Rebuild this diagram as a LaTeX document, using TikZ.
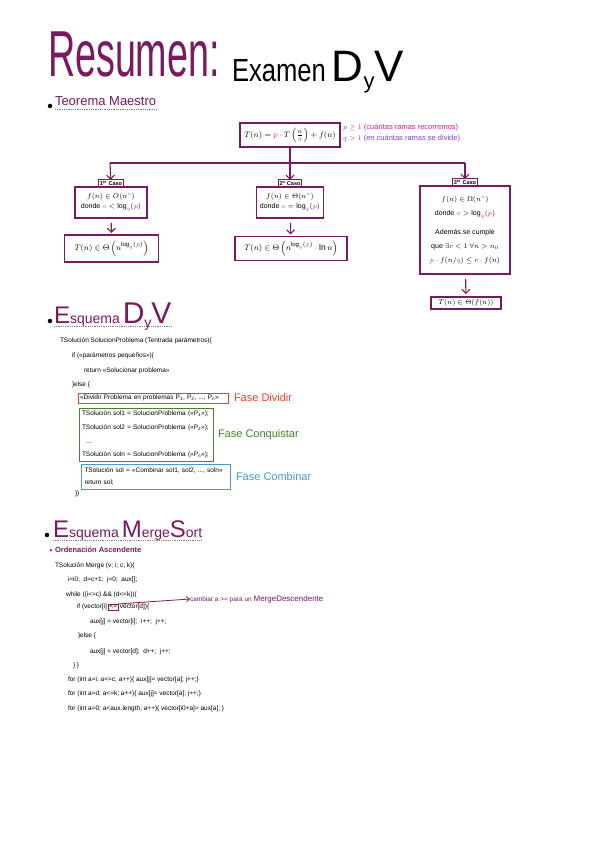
\documentclass[tikz,border=0pt]{standalone}
\usepackage{fontspec}
\setmainfont{Liberation Sans}
\usepackage{amsmath,amssymb}
\usetikzlibrary{arrows.meta,positioning}
\definecolor{morado} {RGB}{122, 24, 96}
\definecolor{rosa}   {RGB}{228, 24,140}
\definecolor{violeta}{RGB}{132, 62,230}
\definecolor{verde}  {RGB}{ 92,170, 60}
\definecolor{verdef} {RGB}{ 72,128, 44}
\definecolor{rojo}   {RGB}{240, 62, 40}
\definecolor{azul}   {RGB}{ 72,150,222}

\newcommand{\vp}{\textcolor{rosa}{p}}
\newcommand{\vq}{\textcolor{violeta}{q}}
\newcommand{\va}{\textcolor{verde}{a}}

\begin{document}
\begin{tikzpicture}[
  x=1pt, y=-1pt,
  every node/.style={inner sep=0pt, outer sep=0pt},
  caja/.style={draw=morado, line width=1.1pt, inner sep=3pt, align=center, font=\fontsize{7}{10}\selectfont},
  etiqueta/.style={draw=morado, line width=1.1pt, inner sep=1.5pt, font=\fontsize{5.5}{6}\selectfont\bfseries},
  codigo/.style={anchor=west, font=\fontsize{6.5}{7}\selectfont},
  fase/.style={font=\fontsize{11}{12}\selectfont},
  nota/.style={anchor=west, font=\fontsize{7.5}{8}\selectfont},
  seccion/.style={anchor=base west, text=morado},
  punto/.style={circle, fill=black, minimum size=4.5pt},
  subrayado/.style={densely dotted, gray, line width=0.8pt},
  linea/.style={morado, line width=1.1pt},
  flecha/.style={morado, line width=1.1pt, -{Straight Barb[length=4pt, width=8pt]}},
  flechafina/.style={morado, line width=0.8pt, -{Straight Barb[length=3pt, width=5pt]}}
]
  \path[use as bounding box, fill=white] (0,0) rectangle (600,848);

  % Titulo
  \node[seccion, font=\fontsize{65}{65}\selectfont] (titulo) at (48,77) {\scalebox{0.58}[1]{Resumen:}};
  \node[anchor=base west] (examen) at (232,82) {\scalebox{0.8}[1]{\fontsize{32}{32}\selectfont Examen}\hspace{6pt}{\fontsize{44}{44}\selectfont D}\raisebox{-7pt}{\fontsize{22}{22}\selectfont y}{\fontsize{44}{44}\selectfont V}};

  % Teorema Maestro
  \node[punto] (bTM) at (50,106) {};
  \node[seccion, font=\fontsize{13}{14}\selectfont] (tm) at (55,106) {Teorema Maestro};
  \draw[subrayado] ([yshift=-3pt]tm.base west) -- ([yshift=-3pt]tm.base east);

  \node[caja, minimum width=100pt, minimum height=24pt, font=\fontsize{8}{10}\selectfont] (teorema) at (290,135)
    {$T(n)=\vp\cdot T\left(\frac{n}{\vq}\right)+f(n)$};
  \node[nota, text=rosa] (notap) at (343,128) {$p\geq1$ (cuántas ramas recorremos)};
  \node[nota, text=violeta] (notaq) at (343,139) {$q>1$ (en cuántas ramas se divide)};

  \coordinate (cruce) at (290,163);
  \coordinate (ramaI) at (110,163);
  \coordinate (ramaIII) at (465,163);

  % Casos
  \node[caja, minimum width=72pt, minimum height=31pt] (casoI) at (111,202.5)
    {$f(n)\in O(n^{\va})$\\ donde $\va<\log_{\vq}(\vp)$};
  \node[etiqueta, above=0pt of casoI] (etqI) {1\textsuperscript{er} Caso};
  \node[caja, minimum width=94pt, minimum height=27pt, font=\fontsize{8.5}{10}\selectfont] (resI) at (111.5,248.5)
    {$T(n)\in\Theta\left(n^{\log_{\vq}(\vp)}\right)$};

  \node[caja, minimum width=66pt, minimum height=31pt] (casoII) at (290,202.5)
    {$f(n)\in \Theta(n^{\va})$\\ donde $\va=\log_{\vq}(\vp)$};
  \node[etiqueta, above=0pt of casoII] (etqII) {2\textsuperscript{o} Caso};
  \node[caja, minimum width=112pt, minimum height=24pt, font=\fontsize{8.5}{10}\selectfont] (resII) at (291,248.5)
    {$T(n)\in\Theta\left(n^{\log_{\vq}(\vp)}\cdot \ln n\right)$};

  \node[caja, minimum width=90pt, minimum height=88pt, font=\fontsize{7}{14}\selectfont] (casoIII) at (465,230)
    {$f(n)\in \Omega(n^{\va})$\\ donde $\va>\log_{\vq}(\vp)$\\[5pt]
     Además se cumple\\ que $\exists c<1\ \forall n>n_0$\\ $\vp\cdot f(n/\vq)\leq c\cdot f(n)$};
  \node[etiqueta, above=0pt of casoIII] (etqIII) {3\textsuperscript{er} Caso};
  \node[caja, minimum width=70pt, minimum height=12pt, inner sep=1.5pt] (resIII) at (466,303)
    {$T(n)\in\Theta(f(n))$};

  \draw[linea] (teorema) -- (cruce);
  \draw[linea] (ramaI) -- (ramaIII);
  \draw[flecha] (ramaI) -- (etqI);
  \draw[flecha] (cruce) -- (etqII);
  \draw[flecha] (ramaIII) -- (etqIII);
  \draw[flecha, shorten <=5pt, shorten >=2pt] (casoI) -- (resI);
  \draw[flecha, shorten <=5pt, shorten >=2pt] (casoII) -- (resII);
  \draw[flecha, shorten <=5pt, shorten >=3pt] (casoIII) -- (resIII);

  % Esquema DyV
  \node[punto] (bDyV) at (50,321) {};
  \node[seccion] (dyv) at (54,323) {{\fontsize{24}{24}\selectfont E}{\fontsize{14}{14}\selectfont squema}\hspace{3pt}{\fontsize{30}{30}\selectfont D}\raisebox{-4pt}{\fontsize{14}{14}\selectfont y}{\fontsize{30}{30}\selectfont V}};
  \draw[subrayado] ([yshift=-3pt]dyv.base west) -- ([yshift=-3pt]dyv.base east);

  \node[codigo] (d1) at (60,341) {TSolución SolucionProblema (Tentrada parámetros)\{};
  \node[codigo] (d2) at (72,356) {if («parámetros pequeños»)\{};
  \node[codigo] (d3) at (84,371) {return «Solucionar problema»};
  \node[codigo] (d4) at (72,385) {\}else \{};
  \node[codigo, draw=rojo, line width=0.9pt, inner sep=2pt, text width=146pt, align=left] (dividir) at (78,398)
    {«Dividir Problema en problemas P\textsubscript{1}, P\textsubscript{2}, ..., P\textsubscript{n}»};
  \node[anchor=north west, draw=verdef, line width=0.9pt, inner sep=3pt, text width=128pt, align=left,
        font=\fontsize{6.5}{13.7}\selectfont] (conquistar) at (79,408)
    {TSolución sol1 = SolucionProblema («P\textsubscript{1}»);\\
     TSolución sol2 = SolucionProblema («P\textsubscript{2}»);\\
     \ \ ...\\
     TSolución soln = SolucionProblema («P\textsubscript{n}»);};
  \node[anchor=north west, draw=azul, line width=0.9pt, inner sep=3.5pt, text width=142pt, align=left,
        font=\fontsize{6.5}{12.5}\selectfont] (combinar) at (81,464)
    {TSolución sol = «Combinar sol1, sol2, ..., soln»\\
     return sol;};
  \node[codigo] (d5) at (75,494) {\}\}};

  \node[fase, text=rojo, right=6pt of dividir] (fdividir) {Fase Dividir};
  \node[fase, text=verdef, right=5pt of conquistar] (fconquistar) {Fase Conquistar};
  \node[fase, text=azul, right=6pt of combinar] (fcombinar) {Fase Combinar};

  % Esquema MergeSort
  \node[punto] (bMS) at (47,535) {};
  \node[seccion] (ms) at (53,537) {{\fontsize{24}{24}\selectfont E}{\fontsize{14}{14}\selectfont squema}\hspace{3pt}{\fontsize{24}{24}\selectfont M}{\fontsize{14}{14}\selectfont erge}{\fontsize{24}{24}\selectfont S}{\fontsize{14}{14}\selectfont ort}};
  \draw[subrayado] ([yshift=-3pt]ms.base west) -- ([yshift=-3pt]ms.base east);

  \node[circle, fill=morado, minimum size=2.5pt] (bOA) at (51,550) {};
  \node[seccion, font=\fontsize{7.5}{8}\selectfont\bfseries] (oa) at (55,552) {Ordenación Ascendente};

  \node[codigo] (m1) at (55,566) {TSolución Merge (v; i; c; k)\{};
  \node[codigo] (m2) at (68,580) {i=i0;\ \ d=c+1;\ \ j=0;\ \ aux[];};
  \node[codigo] (m3) at (66,595) {while ((i<=c) \&\& (d<=k))\{};
  \node[codigo] (m4) at (77,607) {if (vector[i]};
  \node[codigo, draw=morado, line width=0.8pt, inner sep=1.2pt, right=1.5pt of m4] (menor) {<=};
  \node[codigo, right=1.5pt of menor] (m4b) {vector[d])\{};
  \node[codigo] (m5) at (90,622) {aux[j] = vector[i];\ \ i++;\ \ j++;};
  \node[codigo] (m6) at (78,636) {\}else \{};
  \node[codigo] (m7) at (90,652) {aux[j] = vector[d];\ \ d++;\ \ j++;};
  \node[codigo] (m8) at (73,666) {\} \}};
  \node[codigo] (m9) at (68,680) {for (int a=i; a<=c; a++)\{ aux[j]= vector[a]; j++;\}};
  \node[codigo] (m10) at (68,694) {for (int a=d; a<=k; a++)\{ aux[j]= vector[a]; j++;\}};
  \node[codigo] (m11) at (68,709) {for (int a=0; a<aux.length; a++)\{ vector[i0+a]= aux[a]; \}};

  \node[nota, text=morado, font=\fontsize{6.5}{8}\selectfont] (cambio) at (190,599)
    {cambiar a >= para un {\fontsize{8}{9}\selectfont MergeDescendente}};
  \draw[flechafina] (menor.north east) -- (cambio.west);
\end{tikzpicture}
\end{document}
